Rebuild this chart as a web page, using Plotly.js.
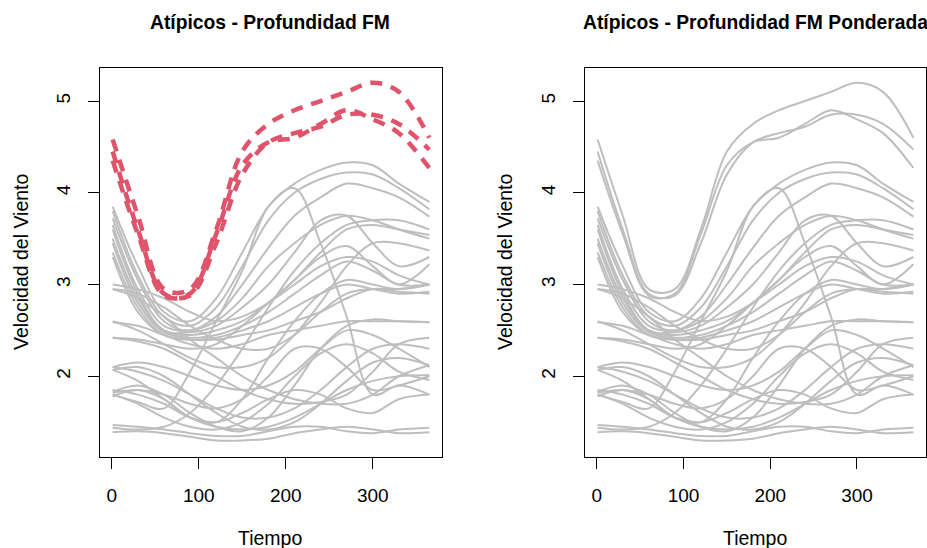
<!DOCTYPE html>
<html>
<head>
<meta charset="utf-8">
<script src="https://cdn.plot.ly/plotly-3.0.1.min.js"></script>
<style>
  html, body { margin: 0; padding: 0; background: #ffffff; }
  #chart { width: 927px; height: 548px; }
</style>
</head>
<body>
<div id="chart"></div>
<script>
// Day of year at which each curve value is read
const tiempo = [1, 30, 60, 90, 120, 150, 180, 210, 240, 270, 300, 330, 365];

// Outlying curves (FM depth)
const atipico1 = [4.58, 3.75, 2.95, 2.95, 3.6, 4.45, 4.75, 4.9, 5.0, 5.1, 5.2, 5.1, 4.6];
const atipico2 = [4.45, 3.6, 2.9, 2.88, 3.45, 4.2, 4.55, 4.65, 4.72, 4.85, 4.85, 4.75, 4.47];
const atipico3 = [4.35, 3.55, 2.88, 2.9, 3.55, 4.3, 4.55, 4.6, 4.75, 4.9, 4.8, 4.65, 4.27];

// Remaining curves
const g01 = [3.85, 3.2, 2.7, 2.6, 2.85, 3.35, 3.85, 4.1, 4.25, 4.33, 4.3, 4.1, 3.9];
const g02 = [3.8, 3.1, 2.65, 2.55, 2.75, 3.2, 3.7, 4.0, 4.15, 4.22, 4.2, 4.05, 3.82];
const g03 = [3.72, 3.05, 2.6, 2.5, 2.65, 3.0, 3.4, 3.75, 3.95, 4.1, 4.05, 3.95, 3.74];
const g04 = [3.65, 2.95, 2.55, 2.5, 2.6, 2.85, 3.2, 3.45, 3.65, 3.75, 3.7, 3.6, 3.5];
const g05 = [3.6, 2.9, 2.5, 2.48, 2.55, 2.75, 3.0, 3.35, 3.7, 3.75, 3.45, 3.2, 3.3];
const g06 = [3.5, 2.85, 2.5, 2.45, 2.5, 2.6, 2.8, 3.05, 3.3, 3.42, 3.2, 3.0, 3.22];
const g07 = [3.45, 2.8, 2.48, 2.42, 2.45, 2.55, 2.7, 2.9, 3.1, 3.25, 3.15, 3.0, 3.0];
const g08 = [3.35, 2.75, 2.45, 2.4, 2.42, 2.5, 2.6, 2.75, 2.9, 3.0, 2.95, 2.9, 2.92];
const g09 = [3.3, 2.7, 2.45, 2.4, 2.4, 2.45, 2.5, 2.6, 2.7, 2.85, 2.95, 2.95, 3.0];
const g10 = [3.0, 2.95, 2.85, 2.7, 2.6, 2.65, 2.8, 3.0, 3.2, 3.3, 3.25, 3.1, 3.0];
const g11 = [2.95, 2.9, 2.75, 2.55, 2.4, 2.3, 2.3, 2.45, 2.7, 2.9, 2.95, 2.92, 2.9];
const g12 = [2.59, 2.55, 2.45, 2.35, 2.3, 2.35, 2.45, 2.5, 2.55, 2.6, 2.6, 2.6, 2.59];
const g13 = [2.42, 2.38, 2.3, 2.15, 2.0, 1.85, 1.75, 1.7, 1.72, 1.8, 2.05, 2.35, 2.42];
const g14 = [2.1, 2.05, 1.95, 1.8, 1.65, 1.55, 1.55, 1.65, 1.85, 2.1, 2.3, 2.35, 2.3];
const g15 = [2.07, 2.1, 2.0, 1.8, 1.6, 1.45, 1.42, 1.5, 1.7, 1.95, 2.15, 2.2, 2.12];
const g16 = [1.83, 1.9, 1.8, 1.6, 1.45, 1.4, 1.55, 1.9, 2.3, 2.55, 2.62, 2.6, 2.59];
const g17 = [1.78, 1.85, 1.75, 1.55, 1.5, 1.75, 2.2, 2.6, 2.9, 3.05, 3.0, 2.95, 3.0];
const g18 = [1.8, 1.72, 1.65, 2.05, 2.6, 3.15, 3.85, 4.05, 3.45, 2.65, 1.8, 1.9, 1.8];
const g19 = [1.47, 1.45, 1.42, 1.38, 1.35, 1.35, 1.4, 1.45, 1.45, 1.4, 1.38, 1.42, 1.44];
const g20 = [1.39, 1.4, 1.38, 1.34, 1.3, 1.3, 1.32, 1.38, 1.42, 1.45, 1.42, 1.38, 1.39];
const g21 = [2.1, 2.15, 2.1, 2.0, 1.9, 1.85, 1.9, 2.05, 2.3, 2.5, 2.45, 2.3, 2.1];
const g22 = [1.82, 1.85, 1.8, 1.7, 1.65, 1.75, 2.0, 2.3, 2.3, 2.1, 1.85, 1.9, 2.0];
const g23 = [2.42, 2.4, 2.35, 2.3, 2.35, 2.55, 2.8, 3.05, 3.35, 3.6, 3.65, 3.6, 3.54];
const g24 = [2.6, 2.5, 2.35, 2.2, 2.1, 2.1, 2.2, 2.45, 2.8, 3.2, 3.45, 3.45, 3.37];
const g25 = [1.44, 1.42, 1.45, 1.6, 1.9, 2.3, 2.75, 3.15, 3.45, 3.65, 3.7, 3.7, 3.6];
const g26 = [1.8, 1.7, 1.55, 1.45, 1.42, 1.5, 1.7, 2.0, 2.25, 2.35, 2.25, 2.05, 1.96];
const g27 = [1.85, 1.8, 1.7, 1.55, 1.5, 1.6, 1.75, 1.85, 1.8, 1.65, 1.6, 1.75, 1.8];
const g28 = [2.95, 2.85, 2.65, 2.4, 2.2, 2.0, 1.85, 1.75, 1.7, 1.7, 1.8, 2.0, 2.12];
const g29 = [2.07, 1.95, 1.75, 1.55, 1.45, 1.42, 1.45, 1.55, 1.7, 1.85, 1.95, 2.0, 2.01];

const atipicos = [atipico1, atipico2, atipico3];
const grises = [g01, g02, g03, g04, g05, g06, g07, g08, g09, g10, g11, g12, g13, g14, g15,
                g16, g17, g18, g19, g20, g21, g22, g23, g24, g25, g26, g27, g28, g29];

const xTicks = [0, 100, 200, 300];
const yTicks = [2, 3, 4, 5];

const titulo1 = 'Atípicos - Profundidad FM';
const titulo2 = 'Atípicos - Profundidad FM Ponderada';
const tituloX = 'Tiempo';
const tituloY = 'Velocidad del Viento';

const GRIS = '#BEBEBE';
const ROJO = '#DF536B';
const FONT = 'Liberation Sans, Arial, sans-serif';

const traces = [];
function linea(vals, xa, ya, color, width, dash) {
  return {
    x: tiempo, y: vals, xaxis: xa, yaxis: ya, type: 'scatter', mode: 'lines',
    line: { color: color, width: width, dash: dash, shape: 'spline', smoothing: 1 },
    hoverinfo: 'skip', showlegend: false
  };
}
// left panel: grey normal curves, red dashed outliers
grises.forEach(v => traces.push(linea(v, 'x', 'y', GRIS, 2, 'solid')));
atipicos.forEach(v => traces.push(linea(v, 'x', 'y', ROJO, 4.5, '12px,9px')));
// right panel: all grey
atipicos.concat(grises).forEach(v => traces.push(linea(v, 'x2', 'y2', GRIS, 2, 'solid')));

const W = 927, H = 548;
const fx = px => px / W;
const fy = py => 1 - py / H;

function ejeX(dom) {
  return {
    domain: dom, range: [-13.56, 379.56], tickvals: xTicks, ticktext: xTicks.map(String),
    ticks: 'outside', ticklen: 11, tickwidth: 1, tickcolor: '#000',
    showline: true, mirror: true, linecolor: '#000', linewidth: 1,
    showgrid: false, zeroline: false, fixedrange: true,
    tickfont: { family: FONT, size: 19, color: '#000' }, ticklabelstandoff: 10
  };
}
function ejeY(anchor) {
  return {
    domain: [fy(457), fy(68)], range: [1.12, 5.36], tickvals: yTicks, ticktext: yTicks.map(String),
    ticks: 'outside', ticklen: 11, tickwidth: 1, tickcolor: '#000', tickangle: -90,
    showline: true, mirror: true, linecolor: '#000', linewidth: 1,
    showgrid: false, zeroline: false, fixedrange: true, anchor: anchor,
    tickfont: { family: FONT, size: 19, color: '#000' }, ticklabelstandoff: 10
  };
}

const xa1 = ejeX([fx(100), fx(442)]); xa1.anchor = 'y';
const xa2 = ejeX([fx(585), fx(926)]); xa2.anchor = 'y2';

function ann(text, x, y, size, bold, angle) {
  return {
    text: bold ? '<b>' + text + '</b>' : text, xref: 'paper', yref: 'paper',
    x: fx(x), y: fy(y), xanchor: 'center', yanchor: 'middle', showarrow: false,
    textangle: angle || 0, font: { family: FONT, size: size, color: '#000' }
  };
}

const layout = {
  width: W, height: H,
  margin: { l: 0, r: 0, t: 0, b: 0 },
  paper_bgcolor: '#fff', plot_bgcolor: '#fff',
  xaxis: xa1, yaxis: ejeY('x'),
  xaxis2: xa2, yaxis2: ejeY('x2'),
  annotations: [
    ann(titulo1, 270, 22, 19.3, true),
    ann(titulo2, 755, 22, 19.3, true),
    ann(tituloX, 270, 538, 19.5, false),
    ann(tituloX, 755, 538, 19.5, false),
    ann(tituloY, 21, 262, 19.5, false, -90),
    ann(tituloY, 505, 262, 19.5, false, -90)
  ]
};

Plotly.newPlot('chart', traces, layout, { staticPlot: true, displayModeBar: false });
</script>
</body>
</html>
